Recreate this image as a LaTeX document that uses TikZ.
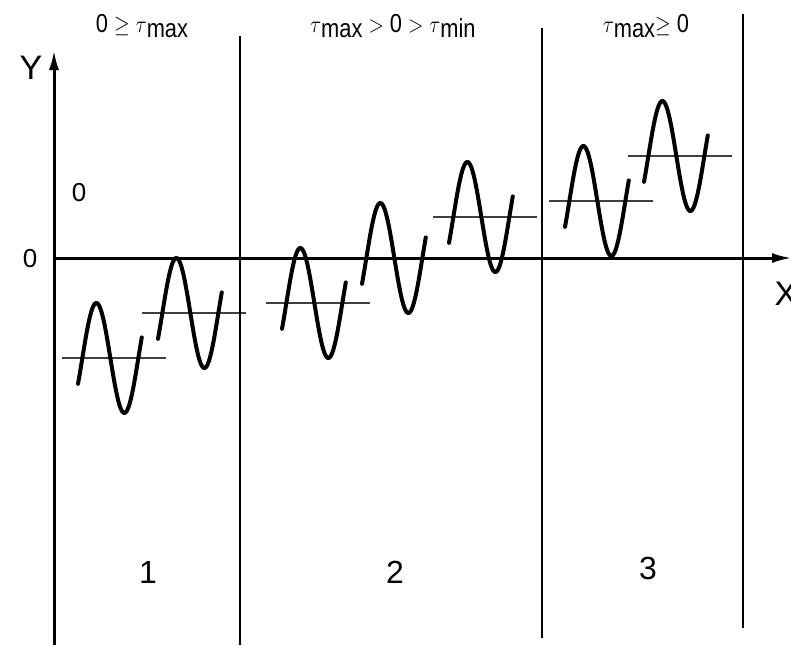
\documentclass[tikz,border=0pt]{standalone}
\usepackage{fontspec}
\setmainfont{Liberation Sans}
\usetikzlibrary{positioning, arrows.meta}
\newcommand{\tmax}{$\tau$\raisebox{-0.3ex}{max}}
\newcommand{\tmin}{$\tau$\raisebox{-0.3ex}{min}}
\newcommand{\narrow}[1]{\scalebox{0.84}[1]{#1}}

\begin{document}
\begin{tikzpicture}[
    x=0.5pt, y=-0.5pt,
    axis/.style={line width=1.5pt, -{Latex[length=10pt, width=5pt]}},
    divider/.style={line width=0.75pt},
    midline/.style={line width=0.75pt, black!75},
    wave/.style={line width=2pt, line cap=round},
    case/.style={font=\fontsize{13}{15}\selectfont},
    zone/.style={font=\fontsize{16}{19}\selectfont},
    axlabel/.style={font=\fontsize{17}{20}\selectfont}]
    \useasboundingbox (0,0) rectangle (791,645);
    \foreach \xo/\ym in {62/358, 142/313, 266/303, 346/258, 433/217, 549/201, 628/156} {
      \draw[midline] (\xo,\ym) -- ++(104,0);
      \draw[wave] plot[variable=\t, domain=-28:382, samples=80, smooth]
        ({\xo+16+(\t+28)/360*56}, {\ym-55*sin(\t)});
    }
    \foreach \n/\xd/\yt/\yb in {1/240/36/645, 2/542/28/638, 3/743/14/628} {
      \coordinate (top\n) at (\xd,\yt);
      \coordinate (bot\n) at (\xd,\yb);
      \draw[divider] (top\n) -- (bot\n);
    }
    \coordinate (origin) at (54,258);
    \coordinate (ybot) at (54,645);
    \coordinate (ytip) at (54,50);
    \coordinate (xtip) at (792,258);
    \draw[axis] (ybot) -- (ytip);
    \draw[axis] (origin) -- (xtip);
    \node[axlabel] (ylab) at (31,68) {Y};
    \node[axlabel] (xlab) at (786,294) {X};
    \node[case] (zero) at (30,259) {0};
    \node[case] (zeroup) at (79,193) {0};
    \node[case] (c1) at (142,26) {\narrow{0 $\geq$ \tmax}};
    \node[case] (c2) at (393,26) {\narrow{\tmax{} $>$ 0 $>$ \tmin}};
    \node[case] (c3) at (646,26) {\narrow{\tmax{}$\geq$ 0}};
    \node[zone] (z1) at (148,572) {1};
    \node[zone] (z2) at (395,572) {2};
    \node[zone] (z3) at (648,568) {3};
\end{tikzpicture}
\end{document}
